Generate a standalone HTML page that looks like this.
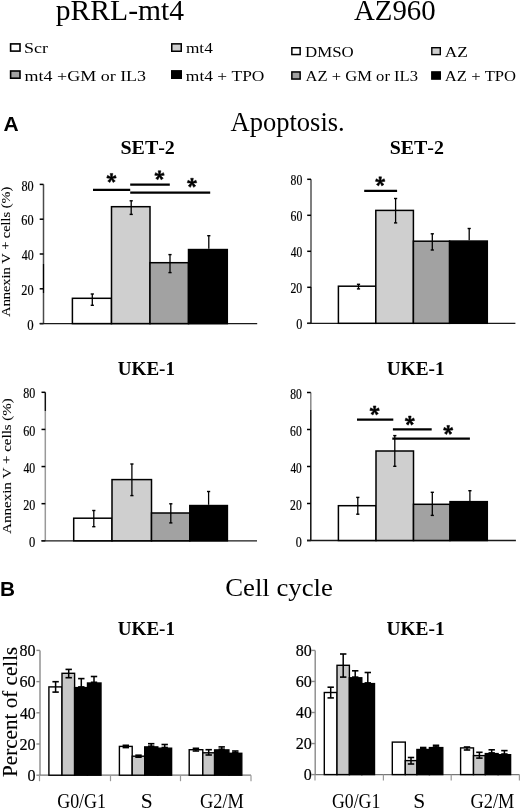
<!DOCTYPE html>
<html><head><meta charset="utf-8"><style>
html,body{margin:0;padding:0;background:#fff;}
body{width:520px;height:808px;overflow:hidden;font-family:"Liberation Serif",serif;}
svg{display:block;font-kerning:none;will-change:transform;filter:blur(0.3px);}
.sk{stroke:#000;stroke-width:0.1px;}
.tk{stroke:#000;stroke-width:0.2px;}
</style></head><body>
<svg width="520" height="808" viewBox="0 0 520 808">
<rect width="520" height="808" fill="#fff"/>
<text x="55.82" y="19.80" font-family="Liberation Serif" font-weight="normal" font-size="28.50" textLength="128.24" lengthAdjust="spacingAndGlyphs" fill="#000" >pRRL-mt4</text>
<text x="353.92" y="20.20" font-family="Liberation Serif" font-weight="normal" font-size="28.50" textLength="81.78" lengthAdjust="spacingAndGlyphs" fill="#000" >AZ960</text>
<rect x="10.60" y="43.90" width="9.40" height="7.20" fill="#ffffff" stroke="#000" stroke-width="1.6"/>
<text x="24.00" y="53.20" font-family="Liberation Serif" font-weight="normal" font-size="15.50" textLength="23.96" lengthAdjust="spacingAndGlyphs" fill="#000" >Scr</text>
<rect x="171.75" y="43.85" width="9.50" height="7.40" fill="#cfcfcf" stroke="#000" stroke-width="1.5"/>
<text x="185.94" y="53.20" font-family="Liberation Serif" font-weight="normal" font-size="15.50" textLength="26.83" lengthAdjust="spacingAndGlyphs" fill="#000" >mt4</text>
<rect x="10.60" y="71.00" width="9.40" height="7.20" fill="#a2a2a2" stroke="#000" stroke-width="1.6"/>
<text x="24.62" y="80.60" font-family="Liberation Serif" font-weight="normal" font-size="15.50" textLength="121.48" lengthAdjust="spacingAndGlyphs" fill="#000" >mt4 +GM or IL3</text>
<rect x="171.75" y="70.85" width="9.50" height="7.40" fill="#000000" stroke="#000" stroke-width="1.5"/>
<text x="185.83" y="80.80" font-family="Liberation Serif" font-weight="normal" font-size="15.50" textLength="78.58" lengthAdjust="spacingAndGlyphs" fill="#000" >mt4 + TPO</text>
<rect x="291.85" y="47.75" width="8.30" height="6.80" fill="#ffffff" stroke="#000" stroke-width="1.5"/>
<text x="305.01" y="56.70" font-family="Liberation Serif" font-weight="normal" font-size="14.50" textLength="48.68" lengthAdjust="spacingAndGlyphs" fill="#000" >DMSO</text>
<rect x="431.80" y="47.70" width="8.50" height="6.90" fill="#cfcfcf" stroke="#000" stroke-width="1.4"/>
<text x="444.83" y="56.70" font-family="Liberation Serif" font-weight="normal" font-size="14.50" textLength="23.12" lengthAdjust="spacingAndGlyphs" fill="#000" >AZ</text>
<rect x="291.85" y="71.95" width="8.30" height="7.10" fill="#a2a2a2" stroke="#000" stroke-width="1.5"/>
<text x="305.64" y="81.30" font-family="Liberation Serif" font-weight="normal" font-size="14.50" textLength="112.31" lengthAdjust="spacingAndGlyphs" fill="#000" >AZ + GM or IL3</text>
<rect x="431.80" y="71.90" width="8.50" height="7.20" fill="#000000" stroke="#000" stroke-width="1.4"/>
<text x="444.84" y="80.80" font-family="Liberation Serif" font-weight="normal" font-size="14.50" textLength="71.24" lengthAdjust="spacingAndGlyphs" fill="#000" >AZ + TPO</text>
<text x="3.48" y="131.00" font-family="Liberation Sans" font-weight="bold" font-size="21.08" textLength="15.18" lengthAdjust="spacingAndGlyphs" fill="#000" >A</text>
<text x="230.54" y="131.40" font-family="Liberation Serif" font-weight="normal" font-size="26.58" textLength="114.21" lengthAdjust="spacingAndGlyphs" fill="#000" >Apoptosis.</text>
<text x="0.01" y="596.30" font-family="Liberation Sans" font-weight="bold" font-size="20.64" textLength="15.04" lengthAdjust="spacingAndGlyphs" fill="#000" >B</text>
<text x="225.20" y="596.30" font-family="Liberation Serif" font-weight="normal" font-size="25.22" textLength="107.73" lengthAdjust="spacingAndGlyphs" fill="#000" >Cell cycle</text>
<text x="120.44" y="154.40" font-family="Liberation Serif" font-weight="bold" font-size="18.73" textLength="54.42" lengthAdjust="spacingAndGlyphs" fill="#000" >SET-2</text>
<text x="389.74" y="154.40" font-family="Liberation Serif" font-weight="bold" font-size="18.88" textLength="54.22" lengthAdjust="spacingAndGlyphs" fill="#000" >SET-2</text>
<text x="117.83" y="375.00" font-family="Liberation Serif" font-weight="bold" font-size="18.93" textLength="57.16" lengthAdjust="spacingAndGlyphs" fill="#000" >UKE-1</text>
<text x="386.82" y="375.00" font-family="Liberation Serif" font-weight="bold" font-size="18.93" textLength="57.88" lengthAdjust="spacingAndGlyphs" fill="#000" >UKE-1</text>
<text x="117.83" y="635.00" font-family="Liberation Serif" font-weight="bold" font-size="18.93" textLength="57.16" lengthAdjust="spacingAndGlyphs" fill="#000" >UKE-1</text>
<text x="386.42" y="635.00" font-family="Liberation Serif" font-weight="bold" font-size="18.93" textLength="58.29" lengthAdjust="spacingAndGlyphs" fill="#000" >UKE-1</text>
<line x1="43.50" y1="184.40" x2="43.50" y2="264.00" stroke="#4a4a4a" stroke-width="1.5"/>
<line x1="43.50" y1="264.00" x2="43.50" y2="293.00" stroke="#000" stroke-width="1.5"/>
<line x1="43.50" y1="293.00" x2="43.50" y2="323.60" stroke="#4a4a4a" stroke-width="1.5"/>
<line x1="39.70" y1="323.60" x2="43.50" y2="323.60" stroke="#000" stroke-width="1.5"/>
<line x1="39.70" y1="288.80" x2="43.50" y2="288.80" stroke="#000" stroke-width="1.5"/>
<line x1="39.70" y1="254.00" x2="43.50" y2="254.00" stroke="#000" stroke-width="1.5"/>
<line x1="39.70" y1="219.20" x2="43.50" y2="219.20" stroke="#000" stroke-width="1.5"/>
<line x1="39.70" y1="184.40" x2="43.50" y2="184.40" stroke="#000" stroke-width="1.5"/>
<line x1="39.70" y1="323.60" x2="257.20" y2="323.60" stroke="#1a1a1a" stroke-width="1.3"/>
<rect x="72.40" y="298.30" width="39.10" height="25.30" fill="#ffffff" stroke="#000" stroke-width="1.5"/>
<rect x="111.50" y="206.70" width="38.50" height="116.90" fill="#cfcfcf" stroke="#000" stroke-width="1.5"/>
<rect x="150.00" y="262.70" width="38.50" height="60.90" fill="#a2a2a2" stroke="#000" stroke-width="1.5"/>
<rect x="188.50" y="249.55" width="38.80" height="74.05" fill="#000000" stroke="#000" stroke-width="1.5"/>
<line x1="92.30" y1="294.00" x2="92.30" y2="305.30" stroke="#000" stroke-width="1.3"/>
<line x1="90.70" y1="294.00" x2="93.90" y2="294.00" stroke="#000" stroke-width="1.4"/>
<line x1="90.70" y1="305.30" x2="93.90" y2="305.30" stroke="#000" stroke-width="1.4"/>
<line x1="131.20" y1="200.80" x2="131.20" y2="214.40" stroke="#000" stroke-width="1.3"/>
<line x1="129.60" y1="200.80" x2="132.80" y2="200.80" stroke="#000" stroke-width="1.4"/>
<line x1="129.60" y1="214.40" x2="132.80" y2="214.40" stroke="#000" stroke-width="1.4"/>
<line x1="170.00" y1="254.60" x2="170.00" y2="272.60" stroke="#000" stroke-width="1.3"/>
<line x1="168.40" y1="254.60" x2="171.60" y2="254.60" stroke="#000" stroke-width="1.4"/>
<line x1="168.40" y1="272.60" x2="171.60" y2="272.60" stroke="#000" stroke-width="1.4"/>
<line x1="208.80" y1="235.70" x2="208.80" y2="248.80" stroke="#000" stroke-width="1.3"/>
<line x1="207.20" y1="235.70" x2="210.40" y2="235.70" stroke="#000" stroke-width="1.4"/>
<text x="27.29" y="329.70" font-family="Liberation Serif" font-weight="normal" font-size="13.83" textLength="6.40" lengthAdjust="spacingAndGlyphs" fill="#000" class="tk">0</text>
<text x="21.36" y="294.90" font-family="Liberation Serif" font-weight="normal" font-size="13.83" textLength="12.31" lengthAdjust="spacingAndGlyphs" fill="#000" class="tk">20</text>
<text x="21.67" y="260.10" font-family="Liberation Serif" font-weight="normal" font-size="13.83" textLength="11.99" lengthAdjust="spacingAndGlyphs" fill="#000" class="tk">40</text>
<text x="21.37" y="225.30" font-family="Liberation Serif" font-weight="normal" font-size="13.83" textLength="12.30" lengthAdjust="spacingAndGlyphs" fill="#000" class="tk">60</text>
<text x="21.43" y="190.50" font-family="Liberation Serif" font-weight="normal" font-size="13.83" textLength="12.23" lengthAdjust="spacingAndGlyphs" fill="#000" class="tk">80</text>
<line x1="93.00" y1="189.80" x2="130.20" y2="189.80" stroke="#000" stroke-width="2.2"/>
<line x1="130.20" y1="184.60" x2="169.80" y2="184.60" stroke="#000" stroke-width="2.2"/>
<line x1="130.20" y1="192.70" x2="210.20" y2="192.70" stroke="#000" stroke-width="2.2"/>
<path d="M112.05 178.05 L112.85 173.45 L110.15 173.45 L110.95 178.05ZM111.67 178.57 L116.29 177.91 L115.46 175.34 L111.33 177.53ZM111.67 177.53 L107.54 175.34 L106.71 177.91 L111.33 178.57ZM111.06 178.37 L113.11 182.56 L115.30 180.98 L111.94 177.73ZM111.06 177.73 L107.70 180.98 L109.89 182.56 L111.94 178.37Z" fill="#000" stroke="#000" stroke-width="0.5" stroke-linejoin="round"/>
<path d="M160.05 175.35 L160.85 170.75 L158.15 170.75 L158.95 175.35ZM159.67 175.87 L164.29 175.21 L163.46 172.64 L159.33 174.83ZM159.67 174.83 L155.54 172.64 L154.71 175.21 L159.33 175.87ZM159.06 175.67 L161.11 179.86 L163.30 178.28 L159.94 175.03ZM159.06 175.03 L155.70 178.28 L157.89 179.86 L159.94 175.67Z" fill="#000" stroke="#000" stroke-width="0.5" stroke-linejoin="round"/>
<path d="M192.55 182.85 L193.35 178.25 L190.65 178.25 L191.45 182.85ZM192.17 183.37 L196.79 182.71 L195.96 180.14 L191.83 182.33ZM192.17 182.33 L188.04 180.14 L187.21 182.71 L191.83 183.37ZM191.56 183.17 L193.61 187.36 L195.80 185.78 L192.44 182.53ZM191.56 182.53 L188.20 185.78 L190.39 187.36 L192.44 183.17Z" fill="#000" stroke="#000" stroke-width="0.5" stroke-linejoin="round"/>
<text class="sk" transform="translate(10.30,316.60) rotate(-90)" x="-0.14" y="0" font-family="Liberation Serif" font-weight="normal" font-size="12.25" textLength="129.97" lengthAdjust="spacingAndGlyphs" fill="#000">Annexin V + cells (%)</text>
<line x1="311.00" y1="179.30" x2="311.00" y2="287.00" stroke="#555" stroke-width="1.5"/>
<line x1="311.00" y1="287.00" x2="311.00" y2="323.30" stroke="#111" stroke-width="1.5"/>
<line x1="307.20" y1="323.30" x2="311.00" y2="323.30" stroke="#000" stroke-width="1.5"/>
<line x1="307.20" y1="287.30" x2="311.00" y2="287.30" stroke="#000" stroke-width="1.5"/>
<line x1="307.20" y1="251.30" x2="311.00" y2="251.30" stroke="#000" stroke-width="1.5"/>
<line x1="307.20" y1="215.30" x2="311.00" y2="215.30" stroke="#000" stroke-width="1.5"/>
<line x1="307.20" y1="179.30" x2="311.00" y2="179.30" stroke="#000" stroke-width="1.5"/>
<line x1="307.20" y1="323.30" x2="515.40" y2="323.30" stroke="#1a1a1a" stroke-width="1.3"/>
<rect x="338.40" y="286.20" width="37.40" height="37.10" fill="#ffffff" stroke="#000" stroke-width="1.5"/>
<rect x="375.80" y="210.40" width="37.60" height="112.90" fill="#cfcfcf" stroke="#000" stroke-width="1.5"/>
<rect x="413.40" y="241.20" width="36.20" height="82.10" fill="#a2a2a2" stroke="#000" stroke-width="1.5"/>
<rect x="449.60" y="241.05" width="37.70" height="82.25" fill="#000000" stroke="#000" stroke-width="1.5"/>
<line x1="358.50" y1="284.30" x2="358.50" y2="288.90" stroke="#000" stroke-width="1.3"/>
<line x1="356.90" y1="284.30" x2="360.10" y2="284.30" stroke="#000" stroke-width="1.4"/>
<line x1="356.90" y1="288.90" x2="360.10" y2="288.90" stroke="#000" stroke-width="1.4"/>
<line x1="395.60" y1="198.50" x2="395.60" y2="222.90" stroke="#000" stroke-width="1.3"/>
<line x1="394.00" y1="198.50" x2="397.20" y2="198.50" stroke="#000" stroke-width="1.4"/>
<line x1="394.00" y1="222.90" x2="397.20" y2="222.90" stroke="#000" stroke-width="1.4"/>
<line x1="432.30" y1="233.80" x2="432.30" y2="250.00" stroke="#000" stroke-width="1.3"/>
<line x1="430.70" y1="233.80" x2="433.90" y2="233.80" stroke="#000" stroke-width="1.4"/>
<line x1="430.70" y1="250.00" x2="433.90" y2="250.00" stroke="#000" stroke-width="1.4"/>
<line x1="469.20" y1="228.50" x2="469.20" y2="240.30" stroke="#000" stroke-width="1.3"/>
<line x1="467.60" y1="228.50" x2="470.80" y2="228.50" stroke="#000" stroke-width="1.4"/>
<text x="296.15" y="329.40" font-family="Liberation Serif" font-weight="normal" font-size="13.83" textLength="6.12" lengthAdjust="spacingAndGlyphs" fill="#000" class="tk">0</text>
<text x="290.48" y="293.40" font-family="Liberation Serif" font-weight="normal" font-size="13.83" textLength="11.77" lengthAdjust="spacingAndGlyphs" fill="#000" class="tk">20</text>
<text x="290.78" y="257.40" font-family="Liberation Serif" font-weight="normal" font-size="13.83" textLength="11.46" lengthAdjust="spacingAndGlyphs" fill="#000" class="tk">40</text>
<text x="290.50" y="221.40" font-family="Liberation Serif" font-weight="normal" font-size="13.83" textLength="11.75" lengthAdjust="spacingAndGlyphs" fill="#000" class="tk">60</text>
<text x="290.55" y="185.40" font-family="Liberation Serif" font-weight="normal" font-size="13.83" textLength="11.69" lengthAdjust="spacingAndGlyphs" fill="#000" class="tk">80</text>
<line x1="364.20" y1="190.80" x2="397.10" y2="190.80" stroke="#000" stroke-width="2.2"/>
<path d="M380.75 181.45 L381.55 176.85 L378.85 176.85 L379.65 181.45ZM380.37 181.97 L384.99 181.31 L384.16 178.74 L380.03 180.93ZM380.37 180.93 L376.24 178.74 L375.41 181.31 L380.03 181.97ZM379.76 181.77 L381.81 185.96 L384.00 184.38 L380.64 181.13ZM379.76 181.13 L376.40 184.38 L378.59 185.96 L380.64 181.77Z" fill="#000" stroke="#000" stroke-width="0.5" stroke-linejoin="round"/>
<line x1="45.30" y1="392.30" x2="45.30" y2="411.00" stroke="#111" stroke-width="1.5"/>
<line x1="45.30" y1="411.00" x2="45.30" y2="540.80" stroke="#999" stroke-width="1.5"/>
<line x1="41.50" y1="540.80" x2="45.30" y2="540.80" stroke="#000" stroke-width="1.5"/>
<line x1="41.50" y1="503.67" x2="45.30" y2="503.67" stroke="#000" stroke-width="1.5"/>
<line x1="41.50" y1="466.55" x2="45.30" y2="466.55" stroke="#000" stroke-width="1.5"/>
<line x1="41.50" y1="429.43" x2="45.30" y2="429.43" stroke="#000" stroke-width="1.5"/>
<line x1="41.50" y1="392.30" x2="45.30" y2="392.30" stroke="#000" stroke-width="1.5"/>
<line x1="41.50" y1="540.80" x2="257.00" y2="540.80" stroke="#1a1a1a" stroke-width="1.3"/>
<rect x="73.70" y="518.20" width="38.30" height="22.60" fill="#ffffff" stroke="#000" stroke-width="1.5"/>
<rect x="112.00" y="479.60" width="39.50" height="61.20" fill="#cfcfcf" stroke="#000" stroke-width="1.5"/>
<rect x="151.50" y="513.00" width="38.30" height="27.80" fill="#a2a2a2" stroke="#000" stroke-width="1.5"/>
<rect x="189.80" y="505.55" width="37.60" height="35.25" fill="#000000" stroke="#000" stroke-width="1.5"/>
<line x1="93.80" y1="510.50" x2="93.80" y2="526.70" stroke="#000" stroke-width="1.3"/>
<line x1="92.20" y1="510.50" x2="95.40" y2="510.50" stroke="#000" stroke-width="1.4"/>
<line x1="92.20" y1="526.70" x2="95.40" y2="526.70" stroke="#000" stroke-width="1.4"/>
<line x1="131.90" y1="464.00" x2="131.90" y2="495.60" stroke="#000" stroke-width="1.3"/>
<line x1="130.30" y1="464.00" x2="133.50" y2="464.00" stroke="#000" stroke-width="1.4"/>
<line x1="130.30" y1="495.60" x2="133.50" y2="495.60" stroke="#000" stroke-width="1.4"/>
<line x1="170.80" y1="503.80" x2="170.80" y2="522.90" stroke="#000" stroke-width="1.3"/>
<line x1="169.20" y1="503.80" x2="172.40" y2="503.80" stroke="#000" stroke-width="1.4"/>
<line x1="169.20" y1="522.90" x2="172.40" y2="522.90" stroke="#000" stroke-width="1.4"/>
<line x1="208.60" y1="491.50" x2="208.60" y2="504.80" stroke="#000" stroke-width="1.3"/>
<line x1="207.00" y1="491.50" x2="210.20" y2="491.50" stroke="#000" stroke-width="1.4"/>
<text x="28.99" y="546.90" font-family="Liberation Serif" font-weight="normal" font-size="13.83" textLength="6.29" lengthAdjust="spacingAndGlyphs" fill="#000" class="tk">0</text>
<text x="23.17" y="509.77" font-family="Liberation Serif" font-weight="normal" font-size="13.83" textLength="12.09" lengthAdjust="spacingAndGlyphs" fill="#000" class="tk">20</text>
<text x="23.47" y="472.65" font-family="Liberation Serif" font-weight="normal" font-size="13.83" textLength="11.78" lengthAdjust="spacingAndGlyphs" fill="#000" class="tk">40</text>
<text x="23.18" y="435.53" font-family="Liberation Serif" font-weight="normal" font-size="13.83" textLength="12.08" lengthAdjust="spacingAndGlyphs" fill="#000" class="tk">60</text>
<text x="23.24" y="398.40" font-family="Liberation Serif" font-weight="normal" font-size="13.83" textLength="12.02" lengthAdjust="spacingAndGlyphs" fill="#000" class="tk">80</text>
<text class="sk" transform="translate(10.90,533.60) rotate(-90)" x="-0.15" y="0" font-family="Liberation Serif" font-weight="normal" font-size="12.68" textLength="135.50" lengthAdjust="spacingAndGlyphs" fill="#000">Annexin V + cells (%)</text>
<line x1="310.80" y1="392.50" x2="310.80" y2="410.00" stroke="#888" stroke-width="1.5"/>
<line x1="310.80" y1="410.00" x2="310.80" y2="540.50" stroke="#111" stroke-width="1.5"/>
<line x1="307.00" y1="540.50" x2="310.80" y2="540.50" stroke="#000" stroke-width="1.5"/>
<line x1="307.00" y1="503.50" x2="310.80" y2="503.50" stroke="#000" stroke-width="1.5"/>
<line x1="307.00" y1="466.50" x2="310.80" y2="466.50" stroke="#000" stroke-width="1.5"/>
<line x1="307.00" y1="429.50" x2="310.80" y2="429.50" stroke="#000" stroke-width="1.5"/>
<line x1="307.00" y1="392.50" x2="310.80" y2="392.50" stroke="#000" stroke-width="1.5"/>
<line x1="307.00" y1="540.50" x2="515.90" y2="540.50" stroke="#1a1a1a" stroke-width="1.3"/>
<rect x="338.40" y="505.70" width="37.60" height="34.80" fill="#ffffff" stroke="#000" stroke-width="1.5"/>
<rect x="376.00" y="451.00" width="37.50" height="89.50" fill="#cfcfcf" stroke="#000" stroke-width="1.5"/>
<rect x="413.50" y="504.30" width="36.50" height="36.20" fill="#a2a2a2" stroke="#000" stroke-width="1.5"/>
<rect x="450.00" y="501.65" width="37.30" height="38.85" fill="#000000" stroke="#000" stroke-width="1.5"/>
<line x1="357.80" y1="497.40" x2="357.80" y2="514.20" stroke="#000" stroke-width="1.3"/>
<line x1="356.20" y1="497.40" x2="359.40" y2="497.40" stroke="#000" stroke-width="1.4"/>
<line x1="356.20" y1="514.20" x2="359.40" y2="514.20" stroke="#000" stroke-width="1.4"/>
<line x1="394.80" y1="435.60" x2="394.80" y2="466.30" stroke="#000" stroke-width="1.3"/>
<line x1="393.20" y1="435.60" x2="396.40" y2="435.60" stroke="#000" stroke-width="1.4"/>
<line x1="393.20" y1="466.30" x2="396.40" y2="466.30" stroke="#000" stroke-width="1.4"/>
<line x1="432.30" y1="492.30" x2="432.30" y2="515.40" stroke="#000" stroke-width="1.3"/>
<line x1="430.70" y1="492.30" x2="433.90" y2="492.30" stroke="#000" stroke-width="1.4"/>
<line x1="430.70" y1="515.40" x2="433.90" y2="515.40" stroke="#000" stroke-width="1.4"/>
<line x1="469.90" y1="490.70" x2="469.90" y2="500.90" stroke="#000" stroke-width="1.3"/>
<line x1="468.30" y1="490.70" x2="471.50" y2="490.70" stroke="#000" stroke-width="1.4"/>
<text x="295.70" y="546.60" font-family="Liberation Serif" font-weight="normal" font-size="13.83" textLength="6.06" lengthAdjust="spacingAndGlyphs" fill="#000" class="tk">0</text>
<text x="290.09" y="509.60" font-family="Liberation Serif" font-weight="normal" font-size="13.83" textLength="11.66" lengthAdjust="spacingAndGlyphs" fill="#000" class="tk">20</text>
<text x="290.38" y="472.60" font-family="Liberation Serif" font-weight="normal" font-size="13.83" textLength="11.35" lengthAdjust="spacingAndGlyphs" fill="#000" class="tk">40</text>
<text x="290.10" y="435.60" font-family="Liberation Serif" font-weight="normal" font-size="13.83" textLength="11.64" lengthAdjust="spacingAndGlyphs" fill="#000" class="tk">60</text>
<text x="290.16" y="398.60" font-family="Liberation Serif" font-weight="normal" font-size="13.83" textLength="11.58" lengthAdjust="spacingAndGlyphs" fill="#000" class="tk">80</text>
<line x1="357.00" y1="419.60" x2="393.30" y2="419.60" stroke="#000" stroke-width="2.2"/>
<line x1="392.90" y1="429.40" x2="431.70" y2="429.40" stroke="#000" stroke-width="2.2"/>
<line x1="392.30" y1="438.70" x2="469.90" y2="438.70" stroke="#000" stroke-width="2.2"/>
<path d="M375.15 410.55 L375.95 405.95 L373.25 405.95 L374.05 410.55ZM374.77 411.07 L379.39 410.41 L378.56 407.84 L374.43 410.03ZM374.77 410.03 L370.64 407.84 L369.81 410.41 L374.43 411.07ZM374.16 410.87 L376.21 415.06 L378.40 413.48 L375.04 410.23ZM374.16 410.23 L370.80 413.48 L372.99 415.06 L375.04 410.87Z" fill="#000" stroke="#000" stroke-width="0.5" stroke-linejoin="round"/>
<path d="M410.35 420.65 L411.15 416.05 L408.45 416.05 L409.25 420.65ZM409.97 421.17 L414.59 420.51 L413.76 417.94 L409.63 420.13ZM409.97 420.13 L405.84 417.94 L405.01 420.51 L409.63 421.17ZM409.36 420.97 L411.41 425.16 L413.60 423.58 L410.24 420.33ZM409.36 420.33 L406.00 423.58 L408.19 425.16 L410.24 420.97Z" fill="#000" stroke="#000" stroke-width="0.5" stroke-linejoin="round"/>
<path d="M448.75 430.05 L449.55 425.45 L446.85 425.45 L447.65 430.05ZM448.37 430.57 L452.99 429.91 L452.16 427.34 L448.03 429.53ZM448.37 429.53 L444.24 427.34 L443.41 429.91 L448.03 430.57ZM447.76 430.37 L449.81 434.56 L452.00 432.98 L448.64 429.73ZM447.76 429.73 L444.40 432.98 L446.59 434.56 L448.64 430.37Z" fill="#000" stroke="#000" stroke-width="0.5" stroke-linejoin="round"/>
<line x1="40.00" y1="650.40" x2="40.00" y2="775.20" stroke="#8a8a8a" stroke-width="1.4"/>
<line x1="36.40" y1="775.20" x2="40.00" y2="775.20" stroke="#8a8a8a" stroke-width="1.4"/>
<text x="27.59" y="781.00" font-family="Liberation Serif" font-weight="normal" font-size="16.54" textLength="8.02" lengthAdjust="spacingAndGlyphs" fill="#000" class="tk">0</text>
<line x1="36.40" y1="744.00" x2="40.00" y2="744.00" stroke="#8a8a8a" stroke-width="1.4"/>
<text x="19.49" y="749.80" font-family="Liberation Serif" font-weight="normal" font-size="16.54" textLength="16.12" lengthAdjust="spacingAndGlyphs" fill="#000" class="tk">20</text>
<line x1="36.40" y1="712.80" x2="40.00" y2="712.80" stroke="#8a8a8a" stroke-width="1.4"/>
<text x="19.89" y="718.60" font-family="Liberation Serif" font-weight="normal" font-size="16.54" textLength="15.70" lengthAdjust="spacingAndGlyphs" fill="#000" class="tk">40</text>
<line x1="36.40" y1="681.60" x2="40.00" y2="681.60" stroke="#8a8a8a" stroke-width="1.4"/>
<text x="19.51" y="687.40" font-family="Liberation Serif" font-weight="normal" font-size="16.54" textLength="16.11" lengthAdjust="spacingAndGlyphs" fill="#000" class="tk">60</text>
<line x1="36.40" y1="650.40" x2="40.00" y2="650.40" stroke="#8a8a8a" stroke-width="1.4"/>
<text x="19.59" y="656.20" font-family="Liberation Serif" font-weight="normal" font-size="16.54" textLength="16.02" lengthAdjust="spacingAndGlyphs" fill="#000" class="tk">80</text>
<line x1="39.50" y1="775.20" x2="251.00" y2="775.20" stroke="#777" stroke-width="1.2"/>
<line x1="39.50" y1="775.20" x2="39.50" y2="781.20" stroke="#999" stroke-width="1.2"/>
<line x1="110.50" y1="775.20" x2="110.50" y2="781.20" stroke="#999" stroke-width="1.2"/>
<line x1="180.50" y1="775.20" x2="180.50" y2="781.20" stroke="#999" stroke-width="1.2"/>
<line x1="251.00" y1="775.20" x2="251.00" y2="781.20" stroke="#999" stroke-width="1.2"/>
<rect x="48.90" y="686.90" width="13.10" height="88.30" fill="#ffffff" stroke="#000" stroke-width="1.4"/>
<rect x="62.00" y="673.30" width="12.60" height="101.90" fill="#c8c8c8" stroke="#000" stroke-width="1.4"/>
<rect x="74.60" y="687.60" width="12.90" height="87.60" fill="#000000" stroke="#000" stroke-width="1.4"/>
<rect x="87.50" y="683.00" width="13.50" height="92.20" fill="#000000" stroke="#000" stroke-width="1.4"/>
<line x1="55.60" y1="681.70" x2="55.60" y2="692.10" stroke="#000" stroke-width="1.5"/>
<line x1="52.40" y1="681.70" x2="58.80" y2="681.70" stroke="#000" stroke-width="1.6"/>
<line x1="52.40" y1="692.10" x2="58.80" y2="692.10" stroke="#000" stroke-width="1.6"/>
<line x1="68.70" y1="669.40" x2="68.70" y2="677.70" stroke="#000" stroke-width="1.5"/>
<line x1="65.50" y1="669.40" x2="71.90" y2="669.40" stroke="#000" stroke-width="1.6"/>
<line x1="65.50" y1="677.70" x2="71.90" y2="677.70" stroke="#000" stroke-width="1.6"/>
<line x1="81.30" y1="678.60" x2="81.30" y2="686.90" stroke="#000" stroke-width="1.5"/>
<line x1="78.10" y1="678.60" x2="84.50" y2="678.60" stroke="#000" stroke-width="1.6"/>
<line x1="78.10" y1="686.90" x2="84.50" y2="686.90" stroke="#000" stroke-width="1.6"/>
<line x1="94.00" y1="676.50" x2="94.00" y2="682.30" stroke="#000" stroke-width="1.5"/>
<line x1="90.80" y1="676.50" x2="97.20" y2="676.50" stroke="#000" stroke-width="1.6"/>
<line x1="90.80" y1="682.30" x2="97.20" y2="682.30" stroke="#000" stroke-width="1.6"/>
<rect x="119.40" y="746.40" width="12.80" height="28.80" fill="#ffffff" stroke="#000" stroke-width="1.4"/>
<rect x="132.20" y="756.20" width="12.50" height="19.00" fill="#c8c8c8" stroke="#000" stroke-width="1.4"/>
<rect x="144.70" y="746.90" width="13.10" height="28.30" fill="#000000" stroke="#000" stroke-width="1.4"/>
<rect x="157.80" y="748.20" width="13.80" height="27.00" fill="#000000" stroke="#000" stroke-width="1.4"/>
<line x1="125.80" y1="745.30" x2="125.80" y2="747.60" stroke="#000" stroke-width="1.5"/>
<line x1="122.60" y1="745.30" x2="129.00" y2="745.30" stroke="#000" stroke-width="1.6"/>
<line x1="122.60" y1="747.60" x2="129.00" y2="747.60" stroke="#000" stroke-width="1.6"/>
<line x1="138.50" y1="755.20" x2="138.50" y2="757.20" stroke="#000" stroke-width="1.5"/>
<line x1="135.30" y1="755.20" x2="141.70" y2="755.20" stroke="#000" stroke-width="1.6"/>
<line x1="135.30" y1="757.20" x2="141.70" y2="757.20" stroke="#000" stroke-width="1.6"/>
<line x1="151.20" y1="743.70" x2="151.20" y2="746.20" stroke="#000" stroke-width="1.5"/>
<line x1="148.00" y1="743.70" x2="154.40" y2="743.70" stroke="#000" stroke-width="1.6"/>
<line x1="148.00" y1="746.20" x2="154.40" y2="746.20" stroke="#000" stroke-width="1.6"/>
<line x1="164.70" y1="744.50" x2="164.70" y2="747.50" stroke="#000" stroke-width="1.5"/>
<line x1="161.50" y1="744.50" x2="167.90" y2="744.50" stroke="#000" stroke-width="1.6"/>
<line x1="161.50" y1="747.50" x2="167.90" y2="747.50" stroke="#000" stroke-width="1.6"/>
<rect x="189.20" y="749.70" width="13.60" height="25.50" fill="#ffffff" stroke="#000" stroke-width="1.4"/>
<rect x="202.80" y="752.80" width="11.80" height="22.40" fill="#c8c8c8" stroke="#000" stroke-width="1.4"/>
<rect x="214.60" y="749.90" width="14.30" height="25.30" fill="#000000" stroke="#000" stroke-width="1.4"/>
<rect x="228.90" y="753.30" width="12.90" height="21.90" fill="#000000" stroke="#000" stroke-width="1.4"/>
<line x1="195.90" y1="748.30" x2="195.90" y2="751.00" stroke="#000" stroke-width="1.5"/>
<line x1="192.70" y1="748.30" x2="199.10" y2="748.30" stroke="#000" stroke-width="1.6"/>
<line x1="192.70" y1="751.00" x2="199.10" y2="751.00" stroke="#000" stroke-width="1.6"/>
<line x1="208.70" y1="749.70" x2="208.70" y2="755.00" stroke="#000" stroke-width="1.5"/>
<line x1="205.50" y1="749.70" x2="211.90" y2="749.70" stroke="#000" stroke-width="1.6"/>
<line x1="205.50" y1="755.00" x2="211.90" y2="755.00" stroke="#000" stroke-width="1.6"/>
<line x1="221.70" y1="746.90" x2="221.70" y2="749.20" stroke="#000" stroke-width="1.5"/>
<line x1="218.50" y1="746.90" x2="224.90" y2="746.90" stroke="#000" stroke-width="1.6"/>
<line x1="218.50" y1="749.20" x2="224.90" y2="749.20" stroke="#000" stroke-width="1.6"/>
<line x1="235.30" y1="751.00" x2="235.30" y2="752.60" stroke="#000" stroke-width="1.5"/>
<line x1="232.10" y1="751.00" x2="238.50" y2="751.00" stroke="#000" stroke-width="1.6"/>
<line x1="232.10" y1="752.60" x2="238.50" y2="752.60" stroke="#000" stroke-width="1.6"/>
<text x="57.16" y="808.30" font-family="Liberation Serif" font-weight="normal" font-size="21.05" textLength="48.92" lengthAdjust="spacingAndGlyphs" fill="#000" >G0/G1</text>
<text x="140.86" y="808.30" font-family="Liberation Serif" font-weight="normal" font-size="21.14" textLength="11.98" lengthAdjust="spacingAndGlyphs" fill="#000" >S</text>
<text x="200.05" y="808.30" font-family="Liberation Serif" font-weight="normal" font-size="21.14" textLength="43.89" lengthAdjust="spacingAndGlyphs" fill="#000" >G2/M</text>
<text class="sk" transform="translate(16.70,776.40) rotate(-90)" x="-0.61" y="0" font-family="Liberation Serif" font-weight="normal" font-size="20.88" textLength="130.37" lengthAdjust="spacingAndGlyphs" fill="#000">Percent of cells</text>
<line x1="315.20" y1="650.40" x2="315.20" y2="774.60" stroke="#8a8a8a" stroke-width="1.4"/>
<line x1="311.60" y1="774.60" x2="315.20" y2="774.60" stroke="#8a8a8a" stroke-width="1.4"/>
<text x="303.79" y="780.40" font-family="Liberation Serif" font-weight="normal" font-size="16.54" textLength="8.02" lengthAdjust="spacingAndGlyphs" fill="#000" class="tk">0</text>
<line x1="311.60" y1="743.55" x2="315.20" y2="743.55" stroke="#8a8a8a" stroke-width="1.4"/>
<text x="295.69" y="749.35" font-family="Liberation Serif" font-weight="normal" font-size="16.54" textLength="16.12" lengthAdjust="spacingAndGlyphs" fill="#000" class="tk">20</text>
<line x1="311.60" y1="712.50" x2="315.20" y2="712.50" stroke="#8a8a8a" stroke-width="1.4"/>
<text x="296.09" y="718.30" font-family="Liberation Serif" font-weight="normal" font-size="16.54" textLength="15.70" lengthAdjust="spacingAndGlyphs" fill="#000" class="tk">40</text>
<line x1="311.60" y1="681.45" x2="315.20" y2="681.45" stroke="#8a8a8a" stroke-width="1.4"/>
<text x="295.71" y="687.25" font-family="Liberation Serif" font-weight="normal" font-size="16.54" textLength="16.11" lengthAdjust="spacingAndGlyphs" fill="#000" class="tk">60</text>
<line x1="311.60" y1="650.40" x2="315.20" y2="650.40" stroke="#8a8a8a" stroke-width="1.4"/>
<text x="295.79" y="656.20" font-family="Liberation Serif" font-weight="normal" font-size="16.54" textLength="16.02" lengthAdjust="spacingAndGlyphs" fill="#000" class="tk">80</text>
<line x1="315.00" y1="774.60" x2="519.40" y2="774.60" stroke="#777" stroke-width="1.2"/>
<line x1="315.00" y1="774.60" x2="315.00" y2="780.60" stroke="#999" stroke-width="1.2"/>
<line x1="383.40" y1="774.60" x2="383.40" y2="780.60" stroke="#999" stroke-width="1.2"/>
<line x1="451.20" y1="774.60" x2="451.20" y2="780.60" stroke="#999" stroke-width="1.2"/>
<line x1="519.40" y1="774.60" x2="519.40" y2="780.60" stroke="#999" stroke-width="1.2"/>
<rect x="324.30" y="692.50" width="12.70" height="82.10" fill="#ffffff" stroke="#000" stroke-width="1.4"/>
<rect x="337.00" y="665.30" width="12.40" height="109.30" fill="#c8c8c8" stroke="#000" stroke-width="1.4"/>
<rect x="349.40" y="677.80" width="12.40" height="96.80" fill="#000000" stroke="#000" stroke-width="1.4"/>
<rect x="361.80" y="683.60" width="12.70" height="91.00" fill="#000000" stroke="#000" stroke-width="1.4"/>
<line x1="330.70" y1="687.20" x2="330.70" y2="697.90" stroke="#000" stroke-width="1.5"/>
<line x1="327.50" y1="687.20" x2="333.90" y2="687.20" stroke="#000" stroke-width="1.6"/>
<line x1="327.50" y1="697.90" x2="333.90" y2="697.90" stroke="#000" stroke-width="1.6"/>
<line x1="343.20" y1="654.00" x2="343.20" y2="677.10" stroke="#000" stroke-width="1.5"/>
<line x1="340.00" y1="654.00" x2="346.40" y2="654.00" stroke="#000" stroke-width="1.6"/>
<line x1="340.00" y1="677.10" x2="346.40" y2="677.10" stroke="#000" stroke-width="1.6"/>
<line x1="355.20" y1="670.80" x2="355.20" y2="677.10" stroke="#000" stroke-width="1.5"/>
<line x1="352.00" y1="670.80" x2="358.40" y2="670.80" stroke="#000" stroke-width="1.6"/>
<line x1="352.00" y1="677.10" x2="358.40" y2="677.10" stroke="#000" stroke-width="1.6"/>
<line x1="367.80" y1="672.50" x2="367.80" y2="682.90" stroke="#000" stroke-width="1.5"/>
<line x1="364.60" y1="672.50" x2="371.00" y2="672.50" stroke="#000" stroke-width="1.6"/>
<line x1="364.60" y1="682.90" x2="371.00" y2="682.90" stroke="#000" stroke-width="1.6"/>
<rect x="392.30" y="742.10" width="13.00" height="32.50" fill="#ffffff" stroke="#000" stroke-width="1.4"/>
<rect x="405.30" y="760.60" width="11.60" height="14.00" fill="#c8c8c8" stroke="#000" stroke-width="1.4"/>
<rect x="416.90" y="749.50" width="12.50" height="25.10" fill="#000000" stroke="#000" stroke-width="1.4"/>
<rect x="429.40" y="747.60" width="13.40" height="27.00" fill="#000000" stroke="#000" stroke-width="1.4"/>
<line x1="411.00" y1="757.50" x2="411.00" y2="764.00" stroke="#000" stroke-width="1.5"/>
<line x1="407.80" y1="757.50" x2="414.20" y2="757.50" stroke="#000" stroke-width="1.6"/>
<line x1="407.80" y1="764.00" x2="414.20" y2="764.00" stroke="#000" stroke-width="1.6"/>
<line x1="423.20" y1="747.50" x2="423.20" y2="748.80" stroke="#000" stroke-width="1.5"/>
<line x1="420.00" y1="747.50" x2="426.40" y2="747.50" stroke="#000" stroke-width="1.6"/>
<line x1="420.00" y1="748.80" x2="426.40" y2="748.80" stroke="#000" stroke-width="1.6"/>
<line x1="436.00" y1="745.30" x2="436.00" y2="746.90" stroke="#000" stroke-width="1.5"/>
<line x1="432.80" y1="745.30" x2="439.20" y2="745.30" stroke="#000" stroke-width="1.6"/>
<line x1="432.80" y1="746.90" x2="439.20" y2="746.90" stroke="#000" stroke-width="1.6"/>
<rect x="460.60" y="747.90" width="12.90" height="26.70" fill="#ffffff" stroke="#000" stroke-width="1.4"/>
<rect x="473.50" y="755.60" width="11.80" height="19.00" fill="#c8c8c8" stroke="#000" stroke-width="1.4"/>
<rect x="485.30" y="753.60" width="12.80" height="21.00" fill="#000000" stroke="#000" stroke-width="1.4"/>
<rect x="498.10" y="754.70" width="12.50" height="19.90" fill="#000000" stroke="#000" stroke-width="1.4"/>
<line x1="467.00" y1="747.00" x2="467.00" y2="750.00" stroke="#000" stroke-width="1.5"/>
<line x1="463.80" y1="747.00" x2="470.20" y2="747.00" stroke="#000" stroke-width="1.6"/>
<line x1="463.80" y1="750.00" x2="470.20" y2="750.00" stroke="#000" stroke-width="1.6"/>
<line x1="479.40" y1="752.30" x2="479.40" y2="758.10" stroke="#000" stroke-width="1.5"/>
<line x1="476.20" y1="752.30" x2="482.60" y2="752.30" stroke="#000" stroke-width="1.6"/>
<line x1="476.20" y1="758.10" x2="482.60" y2="758.10" stroke="#000" stroke-width="1.6"/>
<line x1="491.70" y1="749.80" x2="491.70" y2="752.90" stroke="#000" stroke-width="1.5"/>
<line x1="488.50" y1="749.80" x2="494.90" y2="749.80" stroke="#000" stroke-width="1.6"/>
<line x1="488.50" y1="752.90" x2="494.90" y2="752.90" stroke="#000" stroke-width="1.6"/>
<line x1="504.40" y1="750.60" x2="504.40" y2="754.00" stroke="#000" stroke-width="1.5"/>
<line x1="501.20" y1="750.60" x2="507.60" y2="750.60" stroke="#000" stroke-width="1.6"/>
<line x1="501.20" y1="754.00" x2="507.60" y2="754.00" stroke="#000" stroke-width="1.6"/>
<text x="331.97" y="808.30" font-family="Liberation Serif" font-weight="normal" font-size="21.05" textLength="48.29" lengthAdjust="spacingAndGlyphs" fill="#000" >G0/G1</text>
<text x="413.16" y="808.30" font-family="Liberation Serif" font-weight="normal" font-size="21.14" textLength="11.98" lengthAdjust="spacingAndGlyphs" fill="#000" >S</text>
<text x="470.55" y="808.30" font-family="Liberation Serif" font-weight="normal" font-size="21.14" textLength="43.79" lengthAdjust="spacingAndGlyphs" fill="#000" >G2/M</text>
</svg>
</body></html>
